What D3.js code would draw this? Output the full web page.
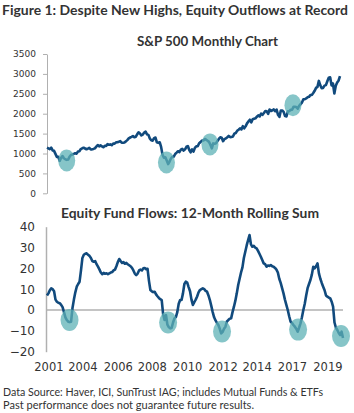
<!DOCTYPE html>
<html>
<head>
<meta charset="utf-8">
<script src="https://cdn.jsdelivr.net/npm/d3@7"></script>
<style>
    body { margin: 0; background: #fff; }
    svg { display: block; font-family: "DejaVu Sans", Verdana, sans-serif; }
</style>
</head>
<body>
<svg id="chart" width="354" height="413"></svg>
<script>
// S&P 500 monthly close, Dec 2001 .. Apr 2019
const spx = [
    1148,
    1130, 1107, 1147, 1077, 1067, 990, 912, 916, 815, 886, 936, 880,
    856, 841, 848, 917, 964, 975, 990, 1008, 996, 1051, 1058, 1112,
    1131, 1145, 1126, 1107, 1121, 1141, 1102, 1104, 1115, 1130, 1174, 1212,
    1181, 1204, 1181, 1157, 1192, 1191, 1234, 1220, 1229, 1207, 1249, 1248,
    1280, 1281, 1295, 1311, 1270, 1270, 1277, 1304, 1336, 1378, 1401, 1418,
    1438, 1407, 1421, 1482, 1531, 1503, 1455, 1474, 1527, 1549, 1481, 1468,
    1379, 1331, 1323, 1386, 1400, 1280, 1267, 1283, 1166, 969, 896, 903,
    826, 735, 798, 873, 919, 919, 987, 1021, 1057, 1036, 1096, 1115,
    1074, 1104, 1169, 1187, 1089, 1031, 1102, 1049, 1141, 1183, 1181, 1258,
    1286, 1327, 1326, 1364, 1345, 1321, 1292, 1219, 1131, 1253, 1247, 1258,
    1312, 1366, 1408, 1398, 1310, 1362, 1379, 1407, 1441, 1412, 1416, 1426,
    1498, 1515, 1569, 1598, 1631, 1606, 1686, 1633, 1682, 1757, 1806, 1848,
    1783, 1859, 1872, 1884, 1924, 1960, 1931, 2003, 1972, 2018, 2068, 2059,
    1995, 2105, 2068, 2086, 2107, 2063, 2104, 1972, 1920, 2079, 2080, 2044,
    1940, 1932, 2060, 2065, 2097, 2099, 2174, 2171, 2168, 2126, 2199, 2239,
    2279, 2364, 2363, 2384, 2412, 2423, 2470, 2472, 2519, 2575, 2648, 2674,
    2824, 2714, 2641, 2648, 2705, 2718, 2816, 2902, 2914, 2712, 2760, 2507,
    2704, 2784, 2834, 2946
];

// equity fund flows, 12-month rolling sum, one value per month
const flows = [
    7, 8, 9.5, 10.4, 10, 9, 5, 4, 3.5, 3.3,
    2.5, 1.4, -1, -3.5, -4.8, -5.6, -5.8, -5.6, 1, 5,
    8.5, 11.2, 12.5, 13.6, 19, 25, 26.5, 27, 27.2, 26.5,
    26, 25, 23.5, 23.2, 23.5, 22, 20.8, 19.5, 18, 17.2,
    17.8, 17.4, 17.6, 17.2, 17.6, 18, 18.2, 19, 19.4, 21,
    23, 24.5, 23.5, 22.6, 23, 22.2, 22.6, 22, 21.5, 21,
    20.2, 19, 17.5, 16.8, 17.5, 19, 19.4, 19, 20, 20.2,
    19.6, 19.8, 14, 9.6, 9, 8.6, 8.8, 7.5, 6.6, 5.8,
    5.2, 4.8, -2, -4.8, -2.4, -7, -8.2, -8.8, -8.6, -6,
    -4, -3.4, -1, 3, 4.8, 4.8, 8, 12.5, 13.6, 13.2,
    11, 9, 5, 2.4, 3.8, 5, 6.5, 8.5, 9.6, 10,
    10.4, 10, 9.2, 8.8, 7, 4.8, 2, -1, -3.5, -5,
    -6.2, -7.2, -9, -11.2, -10.5, -9, -8, -5.5, -4.8, -4.2,
    -4, -1, 1.6, 4.5, 8, 12, 15, 18, 20.5, 25,
    28, 31, 33.6, 36, 31.5, 30.4, 30.8, 30, 29.6, 28.4,
    27, 25.6, 24, 22.4, 22, 20.8, 21.4, 21.2, 21.6, 21,
    20.8, 20.2, 19.4, 18, 15, 13, 10.5, 8, 5, 2.5,
    0, -3, -5.6, -6.2, -7.2, -8, -9, -10.4, -8.5, -6.4,
    -3.5, 0, 3, 7, 10.5, 12.5, 14.4, 17, 20.8, 20,
    21, 22.4, 17.6, 15, 13, 11.2, 9.5, 7, 6.4, 6,
    5.6, 4, 1.6, -6, -8.5, -9.6, -11, -12, -10.4, -13.4
];

const spxTicks = [0, 500, 1000, 1500, 2000, 2500, 3000, 3500];
const flowTicks = [-20, -10, 0, 10, 20, 30, 40];

// category labels under the lower chart (month index, label)
const yearTickIndex = [1, 25, 50, 74, 99, 124, 148, 173, 198];
const yearTickLabel = ['2001', '2004', '2006', '2008', '2010', '2012', '2014', '2017', '2019'];

// highlighted lows (month index, value)
const spxLowIndex = [14, 84.8, 115.7, 174.6];
const spxLowValue = [826, 776, 1229, 2212];
const flowLowIndex = [15.9, 85.5, 123.6, 177.3, 207.6];
const flowLowValue = [-4.8, -6, -10.3, -9.4, -12.5];

const LINE = '#114a7d';
const BLOB = '#5eb1b6';
const GREY = '#b0b0b0';
const TEXT = '#333';
const NUMFONT = '"DejaVu Sans", Verdana, sans-serif';

const svg = d3.select('#chart');

// titles and footnote
function label(txt, x, y, size, len, weight) {
    svg.append('text')
        .attr('x', x).attr('y', y)
        .attr('font-family', 'Lato, "Open Sans", sans-serif')
        .attr('font-size', size)
        .attr('font-weight', weight || 'bold')
        .attr('fill', TEXT)
        .attr('textLength', len)
        .attr('lengthAdjust', 'spacingAndGlyphs')
        .text(txt);
}
label('Figure 1: Despite New Highs, Equity Outflows at Record', 2, 15, 13.5, 346);
label('S&P 500 Monthly Chart', 137, 46, 13, 141);
label('Equity Fund Flows: 12-Month Rolling Sum', 61, 218, 13, 258);
label('Data Source: Haver, ICI, SunTrust IAG; includes Mutual Funds & ETFs', 3, 396, 10.5, 320, 'normal');
label('Past performance does not guarantee future results.', 3, 409, 10.5, 251, 'normal');

// ---- top: S&P 500 ----
const xTop = d3.scaleLinear().domain([0, spx.length - 1]).range([47, 340]);
const yTop = d3.scaleLinear().domain([0, 3500]).range([193.3, 54]);

const topAxis = svg.append('g')
    .attr('transform', 'translate(47,0)')
    .call(d3.axisLeft(yTop).tickValues(spxTicks).tickFormat(d3.format('d'))
        .tickSize(4).tickSizeOuter(0).tickPadding(7));
topAxis.selectAll('path, line').attr('stroke', GREY);
topAxis.selectAll('text').attr('font-size', 9).attr('fill', TEXT).attr('font-family', NUMFONT);

svg.append('path')
    .datum(spx)
    .attr('fill', 'none')
    .attr('stroke', LINE)
    .attr('stroke-width', 2.6)
    .attr('stroke-linejoin', 'round')
    .attr('d', d3.line().x((d, i) => xTop(i)).y(d => yTop(d)));

svg.append('g').selectAll('ellipse')
    .data(spxLowIndex)
    .join('ellipse')
    .attr('cx', d => xTop(d))
    .attr('cy', (d, i) => yTop(spxLowValue[i]))
    .attr('rx', 8.5).attr('ry', 11)
    .attr('fill', BLOB).attr('fill-opacity', 0.75);

// ---- bottom: fund flows ----
const xBot = d3.scaleLinear().domain([0, flows.length - 1]).range([47, 343]);
const yBot = d3.scaleLinear().domain([-20, 40]).range([351.7, 226.7]);

const botAxis = svg.append('g')
    .attr('transform', 'translate(46,0)')
    .call(d3.axisLeft(yBot).tickValues(flowTicks).tickSize(0).tickPadding(11));
botAxis.selectAll('path').attr('stroke', GREY).attr('stroke-width', 1.5);
botAxis.selectAll('text').attr('font-size', 12).attr('fill', TEXT).attr('font-family', NUMFONT);

// zero line
svg.append('line')
    .attr('x1', 46).attr('x2', 343)
    .attr('y1', yBot(0)).attr('y2', yBot(0))
    .attr('stroke', GREY).attr('stroke-width', 1.5);

const xAxis = svg.append('g')
    .attr('transform', 'translate(0,352)')
    .call(d3.axisBottom(xBot).tickValues(yearTickIndex).tickSize(0).tickPadding(11)
        .tickFormat((d, i) => yearTickLabel[i]));
xAxis.select('.domain').remove();
xAxis.selectAll('text').attr('font-size', 11.5).attr('fill', TEXT).attr('font-family', NUMFONT);

svg.append('path')
    .datum(flows)
    .attr('fill', 'none')
    .attr('stroke', LINE)
    .attr('stroke-width', 2.6)
    .attr('stroke-linejoin', 'round')
    .attr('d', d3.line().x((d, i) => xBot(i)).y(d => yBot(d)));

svg.append('g').selectAll('ellipse')
    .data(flowLowIndex)
    .join('ellipse')
    .attr('cx', d => xBot(d))
    .attr('cy', (d, i) => yBot(flowLowValue[i]))
    .attr('rx', 9).attr('ry', 11)
    .attr('fill', BLOB).attr('fill-opacity', 0.75);
</script>
</body>
</html>
